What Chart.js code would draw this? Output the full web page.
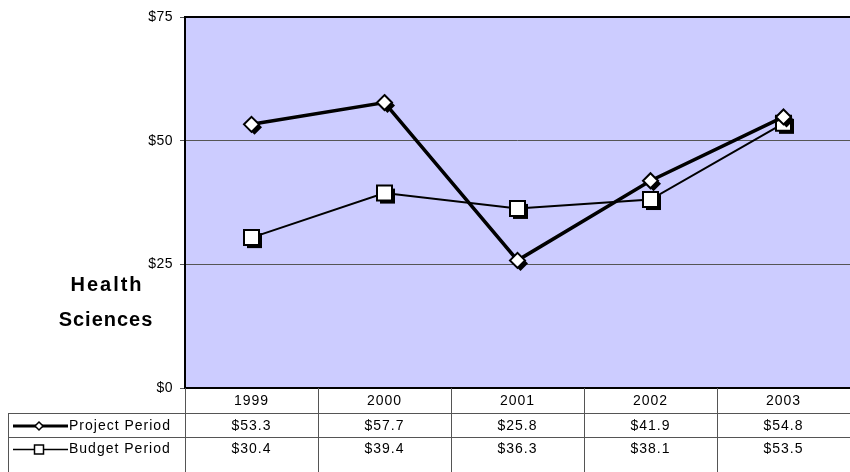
<!DOCTYPE html>
<html>
<head>
<meta charset="utf-8">
<script src="https://cdn.jsdelivr.net/npm/chart.js@4"></script>
<style>
  body { margin: 0; background: #fff; }
  #wrap { width: 850px; height: 472px; }
</style>
</head>
<body>
<div id="wrap"><canvas id="myChart" width="850" height="472"></canvas></div>
<script>
var years = ["1999", "2000", "2001", "2002", "2003"];
var projectPeriod = [53.3, 57.7, 25.8, 41.9, 54.8];
var budgetPeriod = [30.4, 39.4, 36.3, 38.1, 53.5];
var yTicks = [0, 25, 50, 75];
var seriesNames = ["Project Period", "Budget Period"];

var FONT = "'Liberation Sans', Arial, sans-serif";

function money(v) {
	return "$" + v.toFixed(1);
}

function marker(ctx, style, x, y, fill, stroke, lw, r) {
	ctx.save();
	ctx.beginPath();
	if (style == "diamond") {
		r = r || 7.5;
		ctx.moveTo(x, y - r);
		ctx.lineTo(x + r, y);
		ctx.lineTo(x, y + r);
		ctx.lineTo(x - r, y);
		ctx.closePath();
	} else {
		r = r || 7.5;
		ctx.rect(x - r, y - r, r * 2, r * 2);
	}
	ctx.fillStyle = fill;
	ctx.fill();
	if (stroke) {
		ctx.lineWidth = lw;
		ctx.strokeStyle = stroke;
		ctx.stroke();
	}
	ctx.restore();
}

// lavender plot background + frame
var plotBg = {
	id: "plotBg",
	beforeDraw: function(chart) {
		var a = chart.chartArea, ctx = chart.ctx;
		ctx.save();
		ctx.fillStyle = "#CCCCFF";
		ctx.fillRect(a.left, a.top, a.right - a.left, a.bottom - a.top);
		ctx.restore();
		ctx.letterSpacing = "0.5px";
	},
	afterDatasetsDraw: function(chart) {
		var a = chart.chartArea, ctx = chart.ctx;
		ctx.save();
		ctx.strokeStyle = "#000";
		ctx.lineWidth = 2;
		ctx.beginPath();
		ctx.moveTo(a.right, a.top);
		ctx.lineTo(a.left, a.top);
		ctx.lineTo(a.left, a.bottom);
		ctx.lineTo(a.right, a.bottom);
		ctx.stroke();
		ctx.restore();
	}
};

// black drop shadows under the markers
var shadows = {
	id: "shadows",
	afterDatasetDraw: function(chart, args) {
		var meta = args.meta;
		var style = args.index == 0 ? "diamond" : "square";
		var ctx = chart.ctx;
		meta.data.forEach(function(pt) {
			marker(ctx, style, pt.x + 3, pt.y + 3, "#000");
			marker(ctx, style, pt.x, pt.y, "#fff", "#000", 2);
		});
	}
};

// data table under the plot
var dataTable = {
	id: "dataTable",
	afterDraw: function(chart) {
		var ctx = chart.ctx, a = chart.chartArea, xs = chart.scales.x;
		var top = a.bottom, r1 = 413, r2 = 437, bottom = 472, left = 8;
		var step = (a.right - a.left) / years.length;
		ctx.save();
		ctx.strokeStyle = "#555";
		ctx.lineWidth = 1;
		ctx.beginPath();
		for (var i = 0; i <= years.length; i++) {
			var x = Math.round(a.left + step * i) + 0.5;
			ctx.moveTo(x, top);
			ctx.lineTo(x, bottom);
		}
		ctx.moveTo(left, r1 + 0.5); ctx.lineTo(a.right, r1 + 0.5);
		ctx.moveTo(left, r2 + 0.5); ctx.lineTo(a.right, r2 + 0.5);
		ctx.moveTo(left + 0.5, r1); ctx.lineTo(left + 0.5, bottom);
		ctx.stroke();

		ctx.fillStyle = "#000";
		ctx.font = "14px " + FONT;
		ctx.letterSpacing = "1px";
		ctx.textAlign = "center";
		ctx.textBaseline = "middle";
		var rows = [(r1 + r2) / 2 + 1, (r2 + 460) / 2 + 1];
		years.forEach(function(y, i) {
			var cx = xs.getPixelForTick(i);
			ctx.fillText(y, cx, (top + r1) / 2 + 1);
			ctx.fillText(money(projectPeriod[i]), cx, rows[0]);
			ctx.fillText(money(budgetPeriod[i]), cx, rows[1]);
		});

		// legend keys
		ctx.strokeStyle = "#000";
		ctx.lineWidth = 3;
		ctx.beginPath(); ctx.moveTo(13, rows[0]); ctx.lineTo(68, rows[0]); ctx.stroke();
		ctx.lineWidth = 1.5;
		ctx.beginPath(); ctx.moveTo(13, rows[1]); ctx.lineTo(68, rows[1]); ctx.stroke();
		marker(ctx, "diamond", 39, rows[0], "#fff", "#000", 1.5, 4);
		marker(ctx, "square", 39, rows[1], "#fff", "#000", 1.5, 4.5);
		ctx.textAlign = "left";
		ctx.fillStyle = "#000";
		ctx.fillText(seriesNames[0], 69, rows[0]);
		ctx.fillText(seriesNames[1], 69, rows[1]);

		// side title
		ctx.font = "bold 20px " + FONT;
		ctx.textAlign = "center";
		ctx.letterSpacing = "2px";
		ctx.fillText("Health", 107, 285);
		ctx.letterSpacing = "1px";
		ctx.fillText("Sciences", 106, 320);
		ctx.restore();
	}
};

var ctx = document.getElementById("myChart");
var myChart = new Chart(ctx, {
	type: "line",
	data: {
		labels: years,
		datasets: [{
			label: seriesNames[0],
			data: projectPeriod,
			borderColor: "#000",
			borderWidth: 3.5,
			pointRadius: 0,
			pointHoverRadius: 0,
			tension: 0
		}, {
			label: seriesNames[1],
			data: budgetPeriod,
			borderColor: "#000",
			borderWidth: 2,
			pointRadius: 0,
			pointHoverRadius: 0,
			tension: 0
		}]
	},
	options: {
		responsive: false,
		animation: false,
		layout: { padding: { top: 17, bottom: 84, left: 0, right: 0 } },
		plugins: {
			legend: { display: false },
			tooltip: { enabled: false }
		},
		scales: {
			x: {
				offset: true,
				ticks: { display: false },
				grid: { display: false },
				border: { display: false },
				afterFit: function(s) { s.height = 0; }
			},
			y: {
				min: 0,
				max: 75,
				afterFit: function(s) { s.width = 185; },
				afterBuildTicks: function(s) {
					s.ticks = yTicks.map(function(v) { return { value: v }; });
				},
				ticks: {
					padding: 7,
					color: "#000",
					font: { family: FONT, size: 14 },
					callback: function(v) { return "$" + v; }
				},
				grid: {
					color: function(c) {
						return (c.tick && (c.tick.value == 25 || c.tick.value == 50)) ? "#555" : "rgba(0,0,0,0)";
					},
					tickColor: "#555",
					tickLength: 5,
					lineWidth: 1
				},
				border: { display: false }
			}
		}
	},
	plugins: [plotBg, shadows, dataTable]
});
</script>
</body>
</html>
